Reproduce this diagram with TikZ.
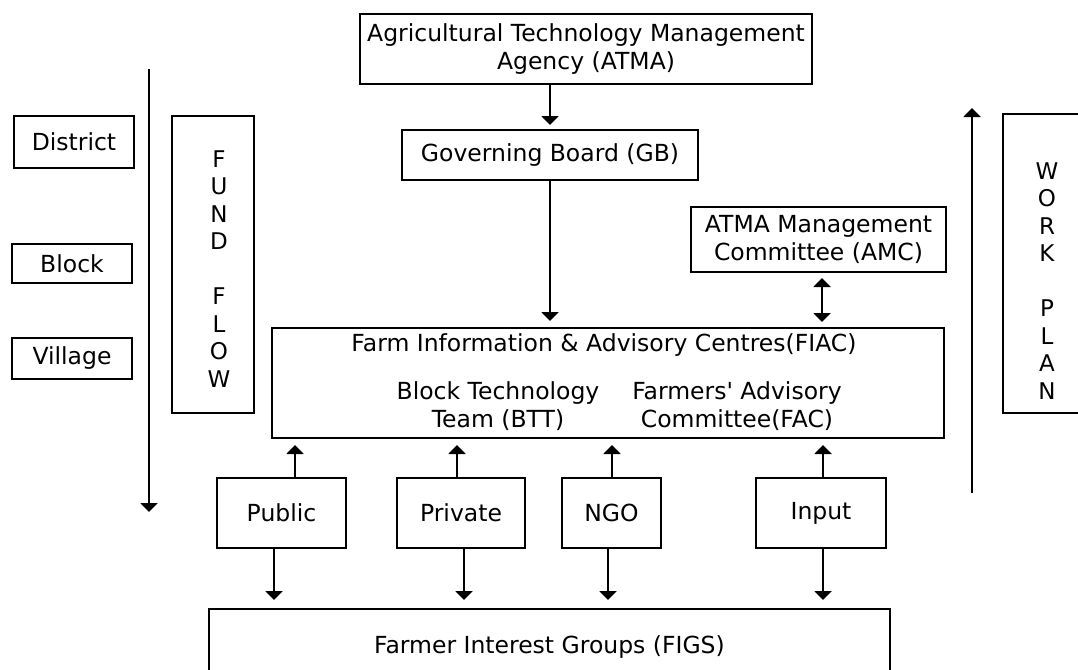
\documentclass[tikz,border=0pt]{standalone}
\usepackage{fontspec}
\setmainfont{DejaVu Sans}[Ligatures=TeXOff]
\usetikzlibrary{arrows.meta}
\begin{document}
\begin{tikzpicture}[x=1pt,y=-1pt,
  box/.style={draw, line width=2pt, inner sep=0pt, align=center,
    font=\fontsize{23.5}{28.5}\selectfont},
  txt/.style={inner sep=0pt, align=center, font=\fontsize{23.5}{28.5}\selectfont},
  letters/.style={inner sep=0pt, align=center, font=\fontsize{23}{27.5}\selectfont},
  tip/.tip={Triangle[width=17pt,length=9pt]},
  arr/.style={line width=2pt, -tip},
  darr/.style={line width=2pt, tip-tip},
]
\useasboundingbox (0,0) rectangle (1078,669);

% top of the hierarchy
\node[box, minimum width=452pt, minimum height=70pt] (atma) at (586,49)
  {Agricultural Technology Management\\Agency (ATMA)};
\node[box, minimum width=296pt, minimum height=50pt] (gb) at (550,155)
  {Governing Board (GB)};
\node[box, minimum width=255pt, minimum height=65pt] (amc) at (818.5,239.5)
  {ATMA Management\\Committee (AMC)};

% FIAC block with its two bodies
\node[draw, line width=2pt, minimum width=672pt, minimum height=110pt] (fiac) at (608,383) {};
\node[txt] (fiact) at (604,345) {Farm Information \& Advisory Centres(FIAC)};
\node[txt] (btt) at (498,406) {Block Technology\\Team (BTT)};
\node[txt] (fac) at (737,406) {Farmers' Advisory\\Committee(FAC)};

% service providers
\node[box, minimum width=129pt, minimum height=70pt] (pub) at (281.5,513) {Public};
\node[box, minimum width=128pt, minimum height=70pt] (pri) at (461,513) {Private};
\node[box, minimum width=99pt, minimum height=70pt] (ngo) at (611.5,513) {NGO};
\node[box, minimum width=130pt, minimum height=70pt] (inp) at (821,513) {Input};

% farmer groups
\node[box, minimum width=681pt, minimum height=76pt] (figs) at (549.5,647)
  {Farmer Interest Groups (FIGS)};

% levels on the left
\node[box, minimum width=120pt, minimum height=52pt] (dist) at (74,142) {District};
\node[box, minimum width=120pt, minimum height=39pt] (blk) at (72,263.5) {Block};
\node[box, minimum width=120pt, minimum height=41pt] (vil) at (72,358.5) {Village};

% fund flow
\coordinate (fftop) at (149,69);
\coordinate (ffbot) at (149,512);
\draw[arr] (fftop) -- (ffbot);
\node[draw, line width=2pt, minimum width=82pt, minimum height=297pt] (ffbox) at (213,264.5) {};
\node[letters] (fftext) at (219,269) {F\\U\\N\\D\\[27.5pt]F\\L\\O\\W};

% work plan
\coordinate (wpbot) at (972,493);
\coordinate (wptop) at (972,108);
\draw[arr] (wpbot) -- (wptop);
\node[draw, line width=2pt, minimum width=100pt, minimum height=299pt] (wpbox) at (1053,263.5) {};
\node[letters] (wptext) at (1047,281) {W\\O\\R\\K\\[27.5pt]P\\L\\A\\N};

% connectors
\draw[arr, shorten >=4pt] (atma.south -| gb.north) -- (gb.north);
\draw[arr, shorten >=6pt] (gb.south) -- (gb.south |- fiac.north);
\draw[darr, shorten <=5pt, shorten >=5pt] ([xshift=3.5pt]amc.south) -- ([xshift=3.5pt]amc.south |- fiac.north);

\draw[arr, shorten >=6pt] ([xshift=13.5pt]pub.north) -- ([xshift=13.5pt]pub.north |- fiac.south);
\draw[arr, shorten >=6pt] ([xshift=-4pt]pri.north) -- ([xshift=-4pt]pri.north |- fiac.south);
\draw[arr, shorten >=6pt] ([xshift=0.5pt]ngo.north) -- ([xshift=0.5pt]ngo.north |- fiac.south);
\draw[arr, shorten >=6pt] ([xshift=2pt]inp.north) -- ([xshift=2pt]inp.north |- fiac.south);

\draw[arr, shorten >=8pt] ([xshift=-7.5pt]pub.south) -- ([xshift=-7.5pt]pub.south |- figs.north);
\draw[arr, shorten >=8pt] ([xshift=3pt]pri.south) -- ([xshift=3pt]pri.south |- figs.north);
\draw[arr, shorten >=8pt] ([xshift=-3.5pt]ngo.south) -- ([xshift=-3.5pt]ngo.south |- figs.north);
\draw[arr, shorten >=8pt] ([xshift=2pt]inp.south) -- ([xshift=2pt]inp.south |- figs.north);
\end{tikzpicture}
\end{document}
